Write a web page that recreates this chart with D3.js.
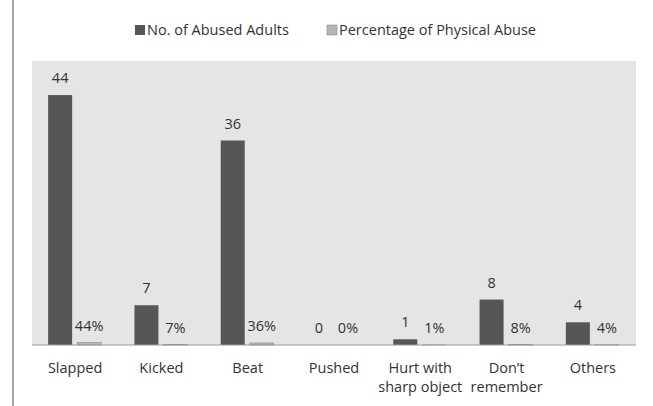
<!DOCTYPE html>
<html lang="en">
<head>
    <meta charset="UTF-8">
    <title>Physical Abuse</title>
    <script src="https://d3js.org/d3.v7.min.js"></script>
    <style>
        body { margin: 0; background: #fff; }
        text { font-family: "Open Sans", sans-serif; fill: #333; }
    </style>
</head>
<body>
    <svg id="chart" width="653" height="406"></svg>

    <script>
        const categories = [["Slapped"], ["Kicked"], ["Beat"], ["Pushed"], ["Hurt with", "sharp object"], ["Don\u2019t", "remember"], ["Others"]];
        const abusedAdults = [44, 7, 36, 0, 1, 8, 4];
        const percentAbuse = [0.44, 0.07, 0.36, 0, 0.01, 0.08, 0.04];
        const seriesNames = ["No. of Abused Adults", "Percentage of Physical Abuse"];

        const svg = d3.select("#chart"),
            margin = {left: 32, right: 17, top: 61, bottom: 61},
            width = 653 - margin.left - margin.right,
            height = 406 - margin.top - margin.bottom;

        // left border line of the frame
        svg.append("line")
            .attr("x1", 13).attr("x2", 13)
            .attr("y1", 0).attr("y2", 406)
            .attr("stroke", "#8a8a8a")
            .attr("stroke-width", 1.5);

        const g = svg.append("g")
            .attr("transform", `translate(${margin.left},${margin.top})`);

        g.append("rect")
            .attr("width", width)
            .attr("height", height)
            .attr("fill", "#e5e5e5");

        const x = d3.scaleBand()
            .domain(d3.range(categories.length))
            .range([0, width]);

        const y = d3.scaleLinear()
            .domain([0, 50])
            .range([height, 0]);

        const barW = 24;

        // dark bars
        g.selectAll(".count")
            .data(abusedAdults)
            .enter().append("rect")
            .attr("class", "count")
            .attr("x", (d, i) => x(i) + x.bandwidth() / 2 - 27)
            .attr("y", d => y(d))
            .attr("width", barW)
            .attr("height", d => height - y(d))
            .attr("fill", "#565656");

        // light bars (percentages, plotted as fractions)
        g.selectAll(".pct")
            .data(percentAbuse)
            .enter().append("rect")
            .attr("class", "pct")
            .attr("x", (d, i) => x(i) + x.bandwidth() / 2 + 2)
            .attr("y", d => y(d))
            .attr("width", barW)
            .attr("height", d => height - y(d))
            .attr("fill", "#b5b5b5")
            .attr("stroke", "#8c8c8c")
            .attr("stroke-width", 0.6);

        g.append("line")
            .attr("x1", 0).attr("x2", width)
            .attr("y1", height).attr("y2", height)
            .attr("stroke", "#9a9a9a")
            .attr("stroke-width", 1.2);

        g.selectAll(".countLbl")
            .data(abusedAdults)
            .enter().append("text")
            .attr("x", (d, i) => x(i) + x.bandwidth() / 2 - 15)
            .attr("y", d => y(d) - 12)
            .attr("text-anchor", "middle")
            .attr("font-size", 14.5)
            .text(d => d);

        g.selectAll(".pctLbl")
            .data(percentAbuse)
            .enter().append("text")
            .attr("x", (d, i) => x(i) + x.bandwidth() / 2 + 14)
            .attr("y", d => y(d) - 12)
            .attr("text-anchor", "middle")
            .attr("font-size", 14.5)
            .text(d => Math.round(d * 100) + "%");

        // category labels
        const catLbl = g.selectAll(".cat")
            .data(categories)
            .enter().append("text")
            .attr("x", (d, i) => x(i) + x.bandwidth() / 2)
            .attr("y", height + 28)
            .attr("text-anchor", "middle")
            .attr("font-size", 14.5);
        catLbl.selectAll("tspan")
            .data(d => d)
            .enter().append("tspan")
            .attr("x", function() { return d3.select(this.parentNode).attr("x"); })
            .attr("dy", (d, i) => i ? 19 : 0)
            .text(d => d);

        // legend
        const legend = svg.append("g").attr("transform", "translate(135,30)");
        const legX = [0, 192];
        const legFill = ["#565656", "#b5b5b5"];
        seriesNames.forEach((name, i) => {
            legend.append("rect")
                .attr("x", legX[i]).attr("y", -5)
                .attr("width", 10).attr("height", 10)
                .attr("fill", legFill[i])
                .attr("stroke", i ? "#8c8c8c" : "none")
                .attr("stroke-width", 0.6);
            legend.append("text")
                .attr("x", legX[i] + 12).attr("y", 5)
                .attr("font-size", 14.5)
                .text(name);
        });
    </script>
</body>
</html>
